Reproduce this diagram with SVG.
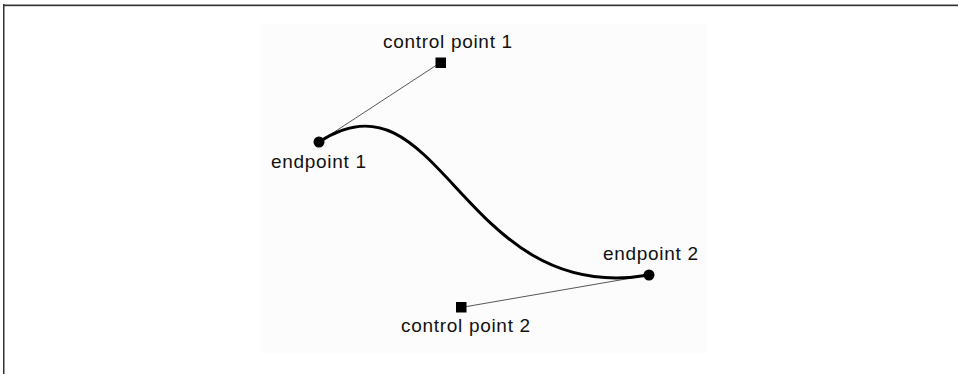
<svg xmlns="http://www.w3.org/2000/svg" width="958" height="374" viewBox="0 0 958 374">
<style>
.lbl{font-family:"Liberation Sans",Arial,sans-serif;font-size:19px;letter-spacing:0.7px;fill:#111}
.ctl{stroke:#444;stroke-width:0.9;fill:none}
.pt{fill:#000}
</style>
<rect x="0" y="0" width="958" height="374" fill="#fff"/>
<rect x="260" y="24" width="447" height="329" fill="#fcfcfc"/>
<rect x="3" y="4" width="955" height="1" fill="#9a9a9a"/>
<rect x="3" y="5" width="955" height="1.2" fill="#333"/>
<rect x="3" y="4" width="1.5" height="370" fill="#333"/>
<g id="connectors">
<line class="ctl" x1="319" y1="142" x2="440.5" y2="62.5"/>
<line class="ctl" x1="649" y1="275" x2="461" y2="307.5"/>
<path d="M319,142 C440.5,62.5 461,307.5 649,275" fill="none" stroke="#000" stroke-width="3"/>
</g>
<g id="endpoint1">
<circle class="pt" cx="319" cy="142" r="5.5"/>
<text class="lbl" x="271" y="168">endpoint 1</text>
</g>
<g id="control1">
<rect class="pt" x="435.5" y="57.5" width="10.5" height="10.5"/>
<text class="lbl" x="383" y="48">control point 1</text>
</g>
<g id="endpoint2">
<circle class="pt" cx="649" cy="275" r="5.5"/>
<text class="lbl" x="603" y="260">endpoint 2</text>
</g>
<g id="control2">
<rect class="pt" x="456" y="302" width="10.5" height="10.5"/>
<text class="lbl" x="401" y="332">control point 2</text>
</g>
</svg>
